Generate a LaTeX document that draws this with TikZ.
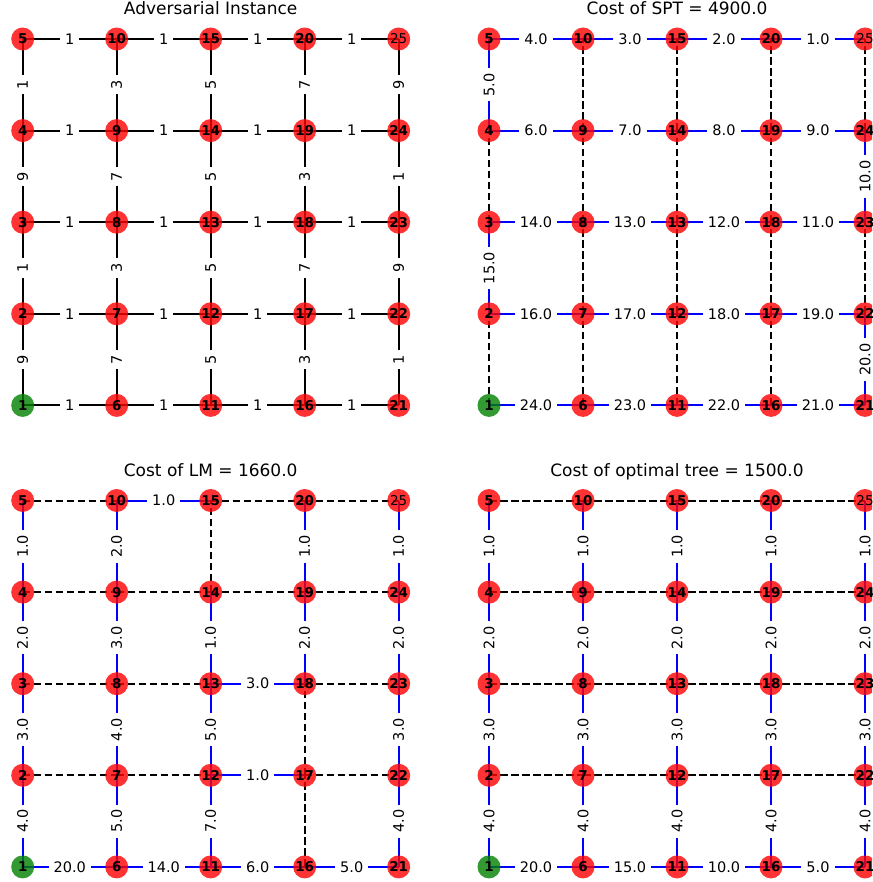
\documentclass[tikz,border=0pt]{standalone}
\usepackage{fontspec}
\setmainfont{DejaVu Sans}
\pgfdeclarelayer{edgelayer}
\pgfsetlayers{edgelayer,main}
\definecolor{ngreen}{RGB}{0,128,0}
\newcommand\mkpanel[3]{%
 \foreach \k in {1,...,25}{%
  \pgfmathtruncatemacro\cc{(\k-1)/5}%
  \pgfmathtruncatemacro\rr{mod(\k-1,5)}%
  \ifnum\k=1 \def\vs{vgreen}\else\ifnum\k=25 \def\vs{vlight}\else\def\vs{vred}\fi\fi
  \node[\vs] (#1\k) at ({#2+94*\cc},{#3+91.6*(4-\rr)}) {\k};
 }}
\newcommand\hedgs[3]{\foreach \u/\v/\l in {#3}{\draw[#2] (#1\u.center) -- node[hlab]{\l} (#1\v.center);}}
\newcommand\vedgs[3]{\foreach \u/\v/\l in {#3}{\draw[#2] (#1\u.center) -- node[vlab]{\l} (#1\v.center);}}
\newcommand\dedgs[2]{\foreach \u/\v in {#2}{\draw[dsh] (#1\u.center) -- (#1\v.center);}}
\begin{document}
\begin{tikzpicture}[x=1pt,y=-1pt,
  vbase/.style={circle,fill opacity=0.8,text opacity=1,minimum size=23pt,inner sep=0pt,text=black},
  vred/.style={vbase,fill=red,font=\fontsize{13.5}{13.5}\selectfont\bfseries},
  vgreen/.style={vbase,fill=ngreen,font=\fontsize{13.5}{13.5}\selectfont\bfseries},
  vlight/.style={vbase,fill=red,font=\fontsize{13.5}{13.5}\selectfont},
  hlab/.style={fill=white,inner xsep=5pt,inner ysep=2pt,text=black,font=\fontsize{14.5}{16}\selectfont},
  vlab/.style={hlab,rotate=90},
  blk/.style={draw=black,line width=2pt},
  blu/.style={draw=blue,line width=2pt},
  dsh/.style={draw=black,line width=2pt,dash pattern=on 7.5pt off 3.5pt},
  ttl/.style={anchor=base,font=\fontsize{17}{18}\selectfont,text=black}]
\useasboundingbox (0,0) rectangle (872,882);
\clip (0,0) rectangle (872,882);
\node[ttl] (t1) at (210.7,15) {Adversarial Instance};
\node[ttl] (t2) at (677,15) {Cost of SPT = 4900.0};
\node[ttl] (t3) at (210.7,476) {Cost of LM = 1660.0};
\node[ttl] (t4) at (677,476) {Cost of optimal tree = 1500.0};
\mkpanel{a}{22.7}{39}
\mkpanel{b}{489}{39}
\mkpanel{c}{22.7}{500.5}
\mkpanel{d}{489}{500.5}
\begin{pgfonlayer}{edgelayer}
% panel a
\hedgs{a}{blk}{1/6/1,6/11/1,11/16/1,16/21/1,2/7/1,7/12/1,12/17/1,17/22/1,3/8/1,8/13/1,13/18/1,18/23/1,4/9/1,9/14/1,14/19/1,19/24/1,5/10/1,10/15/1,15/20/1,20/25/1}
\vedgs{a}{blk}{1/2/9,2/3/1,3/4/9,4/5/1,6/7/7,7/8/3,8/9/7,9/10/3,11/12/5,12/13/5,13/14/5,14/15/5,16/17/3,17/18/7,18/19/3,19/20/7,21/22/1,22/23/9,23/24/1,24/25/9}
% panel b
\hedgs{b}{blu}{5/10/4.0,10/15/3.0,15/20/2.0,20/25/1.0,4/9/6.0,9/14/7.0,14/19/8.0,19/24/9.0,3/8/14.0,8/13/13.0,13/18/12.0,18/23/11.0,2/7/16.0,7/12/17.0,12/17/18.0,17/22/19.0,1/6/24.0,6/11/23.0,11/16/22.0,16/21/21.0}
\vedgs{b}{blu}{4/5/5.0,2/3/15.0,23/24/10.0,21/22/20.0}
\dedgs{b}{1/2,3/4,6/7,7/8,8/9,9/10,11/12,12/13,13/14,14/15,16/17,17/18,18/19,19/20,22/23,24/25}
% panel c
\hedgs{c}{blu}{10/15/1.0,13/18/3.0,12/17/1.0,1/6/20.0,6/11/14.0,11/16/6.0,16/21/5.0}
\dedgs{c}{5/10,15/20,20/25,4/9,9/14,14/19,19/24,3/8,8/13,18/23,2/7,7/12,17/22}
\vedgs{c}{blu}{4/5/1.0,3/4/2.0,2/3/3.0,1/2/4.0,9/10/2.0,8/9/3.0,7/8/4.0,6/7/5.0,13/14/1.0,12/13/5.0,11/12/7.0,19/20/1.0,18/19/2.0,24/25/1.0,23/24/2.0,22/23/3.0,21/22/4.0}
\dedgs{c}{14/15,17/18,16/17}
% panel d
\hedgs{d}{blu}{1/6/20.0,6/11/15.0,11/16/10.0,16/21/5.0}
\dedgs{d}{2/7,7/12,12/17,17/22,3/8,8/13,13/18,18/23,4/9,9/14,14/19,19/24,5/10,10/15,15/20,20/25}
\vedgs{d}{blu}{4/5/1.0,3/4/2.0,2/3/3.0,1/2/4.0,9/10/1.0,8/9/2.0,7/8/3.0,6/7/4.0,14/15/1.0,13/14/2.0,12/13/3.0,11/12/4.0,19/20/1.0,18/19/2.0,17/18/3.0,16/17/4.0,24/25/1.0,23/24/2.0,22/23/3.0,21/22/4.0}
\end{pgfonlayer}
\end{tikzpicture}
\end{document}
